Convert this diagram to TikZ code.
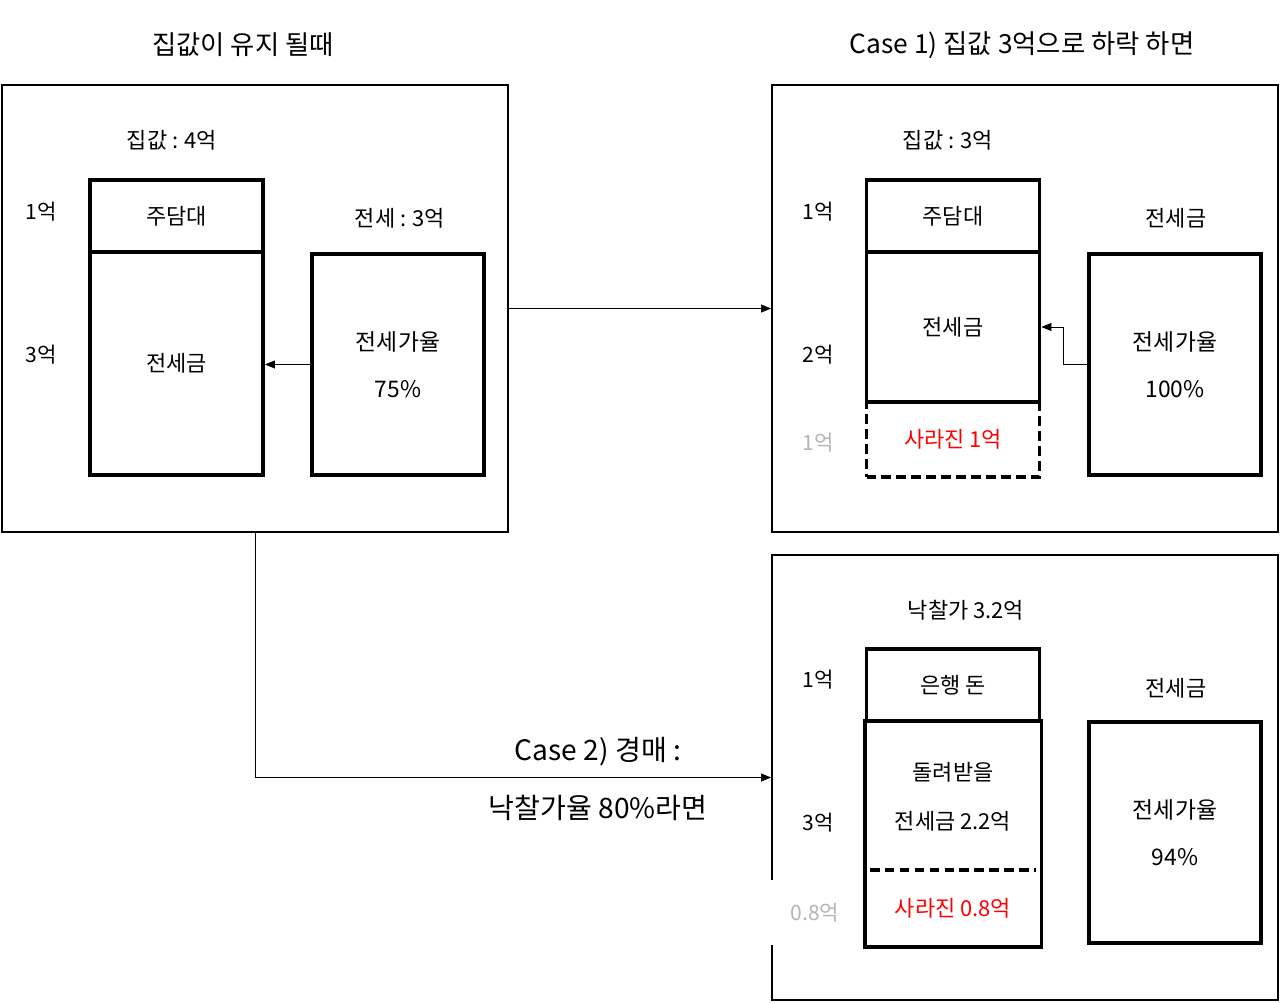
\documentclass[tikz,border=0pt]{standalone}
\usepackage{fontspec}
\newfontfamily\kr{Noto Sans CJK KR}
\usetikzlibrary{arrows.meta}
\definecolor{lostgray}{RGB}{180,180,180}
\begin{document}
\begin{tikzpicture}[font=\kr\fontsize{12.5}{15}\selectfont,>={Triangle[length=2mm,width=1.6mm]},
frame/.style={draw,line width=1.1pt,minimum width=10.12cm,minimum height=8.94cm,inner sep=0pt},
cell/.style={draw,line width=2.2pt,minimum width=3.46cm,inner sep=0pt,align=center},
lostcell/.style={dash pattern=on 5.5pt off 3pt,text=red},
ratio/.style={draw,line width=2.2pt,minimum width=3.44cm,minimum height=4.42cm,inner sep=0pt,align=center,font=\kr\fontsize{13}{27}\selectfont},
title/.style={font=\kr\fontsize{15}{18}\selectfont},
amt/.style={font=\kr\fontsize{12}{14}\selectfont}]
\useasboundingbox (0,0) rectangle (25.6,-20.06);
% house price kept
\node[frame] (keep) at (5.10,-6.17) {};
\node[title] (keept) at (4.86,-0.90) {집값이 유지 될때};
\node (price0) at (3.44,-2.80) {집값 : 4억};
\node[cell,minimum height=1.44cm] (loan0) at (3.53,-4.32) {주담대};
\node[cell,minimum height=4.46cm] (deposit0) at (3.53,-7.27) {전세금};
\node[amt] (a01) at (0.82,-4.24) {1억};
\node[amt] (a02) at (0.82,-7.10) {3억};
\node (dep0) at (8.00,-4.36) {전세 : 3억};
\node[ratio] (rate0) at (7.96,-7.29) {전세가율\\75\%};
\draw[->] (rate0.west) -- (rate0.west -| deposit0.east);
% case 1
\node[frame] (case1) at (20.50,-6.17) {};
\node[title] (case1t) at (20.44,-0.90) {Case 1) 집값 3억으로 하락 하면};
\node (price1) at (18.96,-2.80) {집값 : 3억};
\node[cell,minimum height=1.44cm] (loan1) at (19.06,-4.32) {주담대};
\node[cell,minimum height=3.00cm] (deposit1) at (19.06,-6.54) {전세금};
\node[cell,lostcell,minimum height=1.50cm] (lost1) at (19.06,-8.79) {사라진 1억};
\node[amt] (a11) at (16.36,-4.24) {1억};
\node[amt] (a12) at (16.36,-7.10) {2억};
\node[amt,text=lostgray] (a13) at (16.36,-8.86) {1억};
\node (dep1) at (23.52,-4.36) {전세금};
\node[ratio] (rate1) at (23.50,-7.29) {전세가율\\100\%};
\draw[->] (rate1.west) -- ++(-0.48,0) |- (deposit1.east);
\draw[->] (keep) -- (case1);
% case 2
\node[frame,minimum height=8.90cm] (case2) at (20.50,-15.55) {};
\node (price2) at (19.32,-12.20) {낙찰가 3.2억};
\node[cell,minimum height=1.44cm] (bank2) at (19.06,-13.70) {은행 돈};
\node[cell,draw=none,minimum height=3.02cm,font=\kr\fontsize{12.5}{28}\selectfont] (refund2) at (19.06,-15.93) {돌려받을\\전세금 2.2억};
\node[cell,draw=none,text=red,minimum height=1.46cm] (lost2) at (19.06,-18.17) {사라진 0.8억};
\draw[line width=2.2pt] (refund2.north west) -- (lost2.south west) -- (lost2.south east) -- (refund2.north east);
\draw[line width=2.2pt,dash pattern=on 5.5pt off 3pt] ([xshift=3pt]lost2.north west) -- ([xshift=-3pt]lost2.north east);
\node[amt] (a21) at (16.36,-13.60) {1억};
\node[amt] (a22) at (16.36,-16.46) {3억};
\node[amt,text=lostgray,fill=white,minimum width=1.8cm,minimum height=1.3cm] (a23) at (16.30,-18.25) {0.8억};
\node (dep2) at (23.52,-13.76) {전세금};
\node[ratio] (rate2) at (23.50,-16.65) {전세가율\\94\%};
\draw[->] (keep.south) |- (case2.west);
\node[align=center,font=\kr\fontsize{16}{33}\selectfont] (auction) at (11.96,-15.58) {Case 2) 경매 :\\낙찰가율 80\%라면};
\end{tikzpicture}
\end{document}
